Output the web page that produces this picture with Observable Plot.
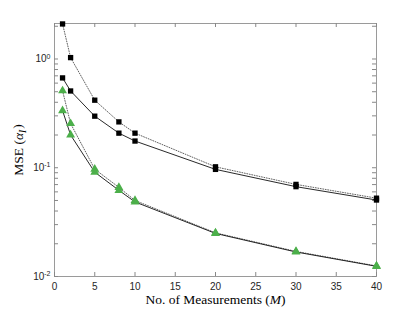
<!DOCTYPE html>
<html><head><meta charset="utf-8">
<script src="https://cdn.jsdelivr.net/npm/d3@7"></script>
<script src="https://cdn.jsdelivr.net/npm/@observablehq/plot@0.6"></script>
<style>body{margin:0;background:#fff} svg{display:block}</style>
</head><body><div id="chart"></div>
<script>
// ---- data ----
const measurements = [1, 2, 5, 8, 10, 20, 30, 40];
const mseDottedSquare   = [2.1, 1.03, 0.418, 0.264, 0.208, 0.102, 0.0703, 0.0525];
const mseSolidSquare    = [0.67, 0.508, 0.298, 0.208, 0.176, 0.0966, 0.067, 0.0505];
const mseDottedTriangle = [0.51, 0.255, 0.097, 0.066, 0.050, 0.0252, 0.0170, 0.0125];
const mseSolidTriangle  = [0.335, 0.200, 0.091, 0.062, 0.0485, 0.0249, 0.0168, 0.0124];
const xTicks = [0, 5, 10, 15, 20, 25, 30, 35, 40];
const yMajorTicks = [0.01, 0.1, 1];
const yMinorTicks = [0.02, 0.03, 0.04, 0.05, 0.06, 0.07, 0.08, 0.09, 0.2, 0.3, 0.4, 0.5, 0.6, 0.7, 0.8, 0.9, 2];
const yTickLabels = ["10^-2", "10^-1", "10^0"];
const xLabel = "No. of Measurements (M)";
const yLabel = "MSE (αI)";

const W = 415, H = 311, mL = 54, mR = 39, mT = 23, mB = 35;
const pw = W - mL - mR, ph = H - mT - mB;
const green = "#4caf4a";
const tickLen = 4;

const rows = (vals) => measurements.map((m, i) => ({M: m, mse: vals[i]}));
const dS = rows(mseDottedSquare), sS = rows(mseSolidSquare);
const dT = rows(mseDottedTriangle), sT = rows(mseSolidTriangle);
const yAllTicks = [...yMajorTicks, ...yMinorTicks];

const dotted = {x: "M", y: "mse", stroke: "#444", strokeWidth: 0.85, strokeDasharray: "0.9,1.6"};
const solid = {x: "M", y: "mse", stroke: "#111", strokeWidth: 0.9};

const plot = Plot.plot({
  width: W, height: H,
  marginLeft: mL, marginRight: mR, marginTop: mT, marginBottom: mB,
  style: {fontFamily: "'Liberation Sans', Arial, sans-serif", fontSize: "10px", color: "#262626", background: "#fff"},
  x: {domain: [0, 40]},
  y: {type: "log", domain: [0.01, 2.12]},
  marks: [
    Plot.frame({stroke: "#9a9a9a", strokeWidth: 1}),
    Plot.ruleX(xTicks, {x: d => d, insetTop: ph - tickLen, stroke: "#888"}),
    Plot.ruleX(xTicks, {x: d => d, insetBottom: ph - tickLen, stroke: "#888"}),
    Plot.ruleY(yAllTicks, {y: d => d, insetRight: pw - tickLen, stroke: "#888"}),
    Plot.ruleY(yAllTicks, {y: d => d, insetLeft: pw - tickLen, stroke: "#888"}),
    Plot.axisX({ticks: xTicks, tickSize: 0, tickPadding: 6, tickFormat: d => String(d),
      label: xLabel, labelAnchor: "center", labelOffset: 27, labelArrow: "none"}),
    Plot.axisY({ticks: yMajorTicks, tickSize: 0, tickPadding: 4,
      tickFormat: d => yTickLabels[yMajorTicks.indexOf(d)],
      label: yLabel, labelAnchor: "center", labelOffset: 41, labelArrow: "none"}),
    Plot.line(dS, dotted),
    Plot.line(sS, solid),
    Plot.line(dT, dotted),
    Plot.line(sT, solid),
    Plot.dot(dS, {x: "M", y: "mse", symbol: "square", r: 3, fill: "#000"}),
    Plot.dot(sS, {x: "M", y: "mse", symbol: "square", r: 3, fill: "#000"}),
    Plot.dot(dT, {x: "M", y: "mse", symbol: "triangle", r: 3.3, fill: green}),
    Plot.dot(sT, {x: "M", y: "mse", symbol: "triangle", r: 3.3, fill: green})
  ]
});
document.getElementById("chart").appendChild(plot);

// ---- typographic post-processing (superscripts, italics) ----
const svg = d3.select(plot);
svg.selectAll('g[aria-label="y-axis tick label"] text').each(function () {
  const [b, e] = this.textContent.split("^");
  const t = d3.select(this); t.text(null);
  t.append("tspan").text(b);
  t.append("tspan").attr("dy", "-0.5em").attr("font-size", "7px").text(e);
});
svg.selectAll('g[aria-label="x-axis label"] text').each(function () {
  const t = d3.select(this); t.text(null);
  t.attr("font-family", "'Liberation Serif', 'Times New Roman', serif").attr("font-size", "13.5px").attr("fill", "#000");
  t.append("tspan").text("No. of Measurements (");
  t.append("tspan").attr("font-style", "italic").text("M");
  t.append("tspan").text(")");
});
svg.selectAll('g[aria-label="y-axis label"] text').each(function () {
  const t = d3.select(this); t.text(null);
  t.attr("font-family", "'Liberation Serif', 'Times New Roman', serif").attr("font-size", "13.5px").attr("fill", "#000");
  t.append("tspan").text("MSE (");
  t.append("tspan").attr("font-style", "italic").text("α");
  t.append("tspan").attr("font-style", "italic").attr("font-size", "9.5px").attr("dy", "0.3em").text("I");
  t.append("tspan").attr("dy", "-0.3em").attr("dx", "1").text(")");
});
</script>
</body></html>
